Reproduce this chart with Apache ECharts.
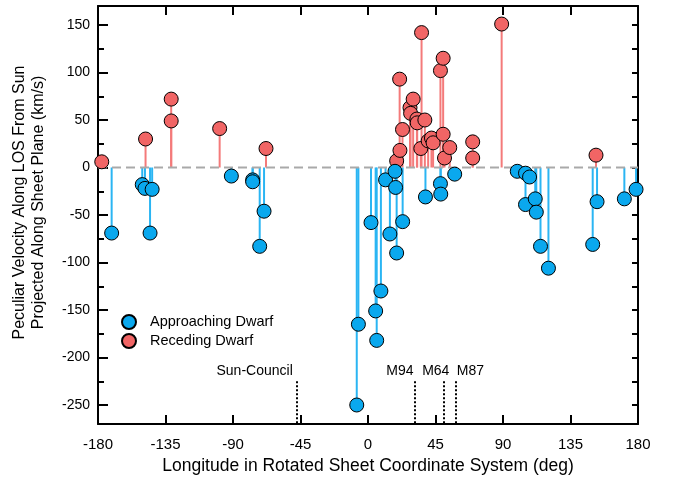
<!DOCTYPE html>
<html>
<head>
<meta charset="utf-8">
<script src="https://cdn.jsdelivr.net/npm/echarts@6/dist/echarts.min.js"></script>
<style>
  html, body { margin: 0; padding: 0; background: #fff; }
  #chart { width: 673px; height: 480px; }
</style>
</head>
<body>
<div id="chart"></div>
<script>
// receding dwarfs: longitude (deg) and velocity (km/s)
var recedingLon = [-177.5, -148.3, -131.2, -131.2, -98.9, -68.0, 19.1, 21.3, 21.1, 23.0,
  28.0, 28.4, 30.1, 32.6, 32.8, 35.2, 35.7, 37.9, 40.1, 42.3,
  43.4, 48.3, 50.1, 50.1, 51.0, 54.5, 69.8, 69.8, 89.1, 152.0];
var recedingVel = [6, 30, 72, 49, 41, 20, 7, 18, 93, 40,
  63, 57, 72, 51, 47, 20, 142, 50, 28, 31,
  26, 102, 115, 35, 10, 21, 27, 10, 151, 13];

// approaching dwarfs
var approachingLon = [-170.9, -150.5, -148.7, -143.9, -145.3, -91.1, -76.9, -76.9, -69.3, -72.2,
  -7.5, -6.4, 2.0, 5.1, 5.8, 8.6, 11.7, 14.6, 18.0, 18.4,
  19.1, 23.1, 38.3, 48.3, 48.5, 57.8, 99.5, 105.0, 107.7, 105.0,
  111.5, 112.2, 115.0, 120.3, 149.8, 152.7, 170.9, 178.7];
var approachingVel = [-69, -18, -22, -23, -69, -9, -13, -15, -46, -83,
  -250, -165, -58, -151, -182, -130, -13, -70, -4, -21,
  -90, -57, -31, -17, -28, -7, -4, -6, -10, -39,
  -33, -47, -83, -106, -81, -36, -33, -23];

// reference directions
var refNames = ['Sun-Council', 'M94', 'M64', 'M87'];
var refLon = [-47.5, 31.0, 50.5, 58.5];
var refTop = -225;

var yLabelValues = [150, 100, 50, 0, -50, -100, -150, -200, -250];
var yMinorValues = [150, 125, 100, 75, 50, 25, 0, -25, -50, -75, -100, -125, -150, -175, -200, -225, -250];

var BLUE = '#0AA8EE', RED = '#F16565';
var BLUE_STEM = '#2AB5F3', RED_STEM = '#F47A7A';
var FONT = 'Liberation Sans, Arial, sans-serif';

// label offsets of the reference names (style only)
var refLabelStyle = [
  { align: 'right', offset: [-4, 0] },
  { align: 'right', offset: [-1, 0] },
  { align: 'center', offset: [-8, 0] },
  { align: 'left', offset: [1, 0] }
];

function pairs(xs, ys) {
  return xs.map(function (x, i) { return [x, ys[i]]; });
}

function stems(xs, ys, color) {
  return {
    type: 'custom',
    silent: true,
    z: 1,
    data: pairs(xs, ys),
    renderItem: function (params, api) {
      var p0 = api.coord([api.value(0), 0]);
      var p1 = api.coord([api.value(0), api.value(1)]);
      return {
        type: 'line',
        shape: { x1: p0[0], y1: p0[1], x2: p1[0], y2: p1[1] },
        style: { stroke: color, lineWidth: 2 }
      };
    }
  };
}

var chart = echarts.init(document.getElementById('chart'));

var option = {
  animation: false,
  textStyle: { fontFamily: FONT, color: '#000' },
  grid: { left: 98, right: 35, top: 6, bottom: 53 },
  legend: {
    orient: 'vertical',
    left: 116,
    top: 309,
    itemWidth: 14,
    itemHeight: 14,
    itemGap: 3,
    data: ['Approaching Dwarf', 'Receding Dwarf'],
    textStyle: { fontSize: 14.5, color: '#000', fontFamily: FONT, padding: [0, 0, 0, 9] }
  },
  xAxis: [
    {
      type: 'value', position: 'bottom',
      min: -180, max: 180, interval: 45,
      name: 'Longitude in Rotated Sheet Coordinate System (deg)',
      nameLocation: 'middle', nameGap: 33,
      nameTextStyle: { fontSize: 17.5, color: '#000', fontFamily: FONT },
      axisLine: { onZero: false, lineStyle: { color: '#000', width: 2 } },
      axisTick: { inside: true, length: 9, lineStyle: { color: '#000', width: 2 } },
      axisLabel: { fontSize: 15, color: '#000', margin: 13, fontFamily: FONT },
      splitLine: { show: false }
    },
    {
      type: 'value', position: 'top',
      min: -180, max: 180, interval: 45,
      axisLine: { onZero: false, lineStyle: { color: '#000', width: 2 } },
      axisTick: { inside: true, length: 9, lineStyle: { color: '#000', width: 2 } },
      axisLabel: { show: false },
      splitLine: { show: false }
    }
  ],
  yAxis: [
    {
      type: 'value', position: 'left',
      min: -270, max: 170,
      name: 'Peculiar Velocity Along LOS From Sun\nProjected Along Sheet Plane (km/s)',
      nameLocation: 'middle', nameGap: 50, nameRotate: 90,
      nameTextStyle: { fontSize: 16, lineHeight: 19, color: '#000', fontFamily: FONT, padding: [0, 0, 0, 25] },
      axisLine: { onZero: false, lineStyle: { color: '#000', width: 2 } },
      axisTick: { inside: true, length: 10, customValues: yLabelValues, lineStyle: { color: '#000', width: 2 } },
      axisLabel: { fontSize: 14, color: '#000', margin: 8, customValues: yLabelValues, fontFamily: FONT },
      splitLine: { show: false }
    },
    {
      type: 'value', position: 'left',
      min: -270, max: 170,
      axisLine: { show: false, onZero: false },
      axisTick: { inside: true, length: 6, customValues: yMinorValues, lineStyle: { color: '#000', width: 2 } },
      axisLabel: { show: false },
      splitLine: { show: false }
    },
    {
      type: 'value', position: 'right',
      min: -270, max: 170,
      axisLine: { show: true, onZero: false, lineStyle: { color: '#000', width: 2 } },
      axisTick: { show: true, inside: true, length: 6, customValues: yMinorValues, lineStyle: { color: '#000', width: 2 } },
      axisLabel: { show: false },
      splitLine: { show: false }
    }
  ],
  series: [
    stems(recedingLon, recedingVel, RED_STEM),
    stems(approachingLon, approachingVel, BLUE_STEM),
    {
      name: 'zero',
      type: 'line',
      z: 2,
      silent: true,
      symbol: 'none',
      data: [[-180, 0], [180, 0]],
      lineStyle: { color: '#A9A9A9', width: 2, type: [9, 5] }
    },
    {
      name: 'refs',
      type: 'scatter',
      data: [],
      markLine: {
        silent: true,
        symbol: 'none',
        animation: false,
        lineStyle: { color: '#000', width: 2, type: 'dotted' },
        label: { show: true, position: 'start', distance: 3, formatter: '{b}', fontSize: 14, color: '#000', fontFamily: FONT },
        data: refLon.map(function (x, i) {
          return [
            { coord: [x, refTop], name: refNames[i], label: refLabelStyle[i] },
            { coord: [x, -270] }
          ];
        })
      }
    },
    {
      name: 'Receding Dwarf',
      type: 'scatter',
      z: 3,
      symbolSize: 14,
      data: pairs(recedingLon, recedingVel),
      itemStyle: { color: RED, borderColor: '#000', borderWidth: 1, opacity: 1 }
    },
    {
      name: 'Approaching Dwarf',
      type: 'scatter',
      z: 4,
      symbolSize: 14,
      data: pairs(approachingLon, approachingVel),
      itemStyle: { color: BLUE, borderColor: '#000', borderWidth: 1, opacity: 1 }
    }
  ]
};

chart.setOption(option);
</script>
</body>
</html>
